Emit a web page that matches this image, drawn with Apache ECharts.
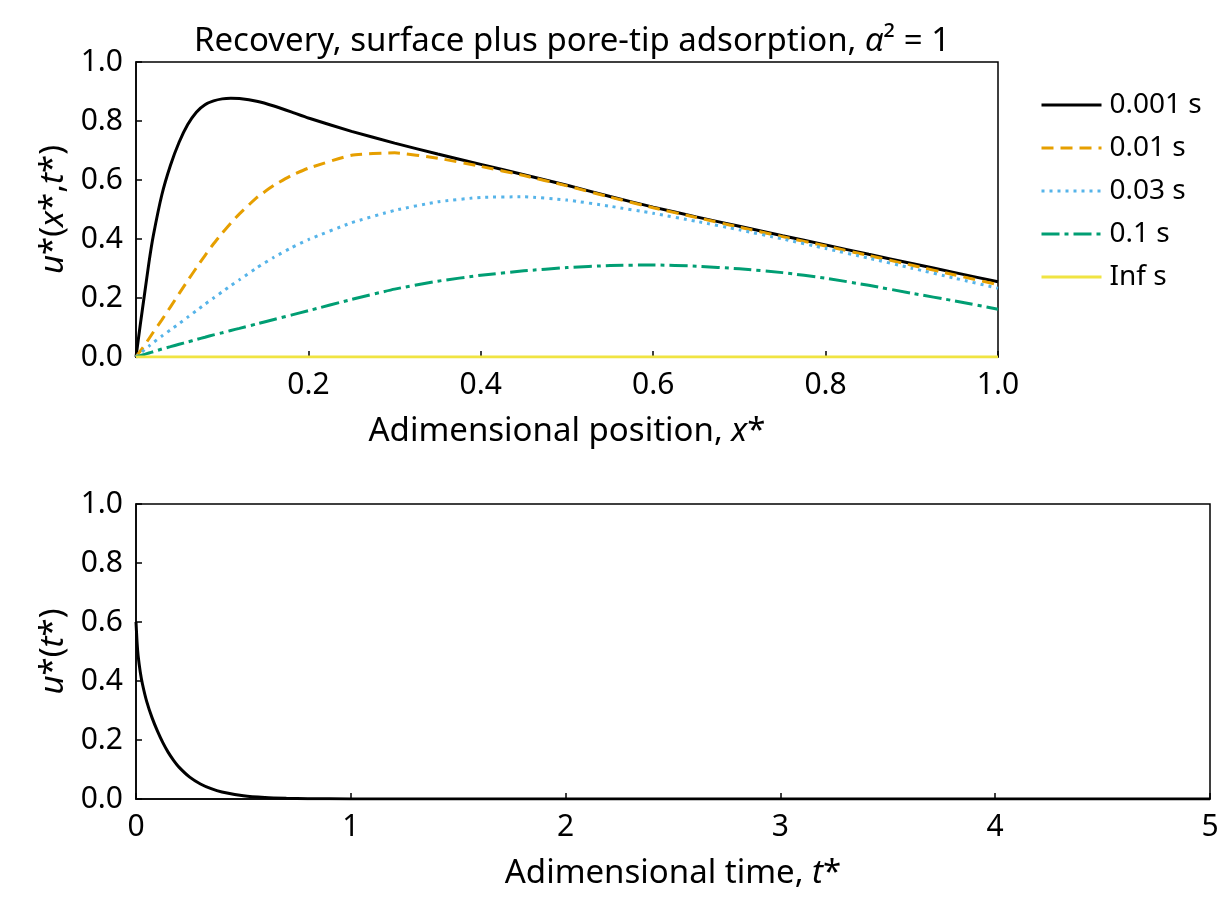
<!DOCTYPE html>
<html>
<head>
<meta charset="utf-8">
<script src="https://cdn.jsdelivr.net/npm/echarts@6/dist/echarts.min.js"></script>
<style>
  html, body { margin: 0; padding: 0; background: #fff; }
  #main { width: 1230px; height: 923px; }
</style>
</head>
<body>
<div id="main"></div>
<script>
// top panel: profiles along the pore
const xPos = [0, 0.005, 0.01, 0.015, 0.02, 0.03, 0.04, 0.05, 0.06, 0.07, 0.08, 0.09, 0.1, 0.11, 0.12, 0.14, 0.16, 0.18, 0.2,
  0.25, 0.3, 0.35, 0.4, 0.45, 0.5, 0.55, 0.6, 0.65, 0.7, 0.75, 0.8, 0.85, 0.9, 0.95, 1.0];
const u0001 = [0, 0.11, 0.215, 0.32, 0.41, 0.55, 0.65, 0.728, 0.788, 0.83, 0.855, 0.868, 0.875, 0.877, 0.876, 0.867, 0.851, 0.831, 0.81,
  0.765, 0.725, 0.688, 0.653, 0.618, 0.582, 0.544, 0.508, 0.475, 0.443, 0.411, 0.38, 0.348, 0.317, 0.286, 0.255];
const u001 = [0, 0.02, 0.04, 0.062, 0.084, 0.126, 0.17, 0.215, 0.259, 0.302, 0.344, 0.384, 0.42, 0.454, 0.485, 0.54, 0.582, 0.615, 0.64,
  0.684, 0.692, 0.674, 0.646, 0.615, 0.58, 0.542, 0.506, 0.473, 0.44, 0.408, 0.376, 0.344, 0.311, 0.278, 0.245];
const u003 = [0, 0.012, 0.025, 0.037, 0.049, 0.071, 0.092, 0.113, 0.135, 0.157, 0.179, 0.2, 0.221, 0.242, 0.262, 0.302, 0.338, 0.37, 0.398,
  0.455, 0.497, 0.526, 0.541, 0.543, 0.532, 0.511, 0.487, 0.46, 0.431, 0.4, 0.368, 0.335, 0.301, 0.267, 0.233];
const u01 = [0, 0.0045, 0.009, 0.0135, 0.018, 0.027, 0.035, 0.043, 0.051, 0.059, 0.067, 0.075, 0.082, 0.09, 0.097, 0.112, 0.127, 0.142, 0.157,
  0.195, 0.23, 0.257, 0.277, 0.292, 0.303, 0.31, 0.312, 0.308, 0.299, 0.286, 0.267, 0.243, 0.216, 0.19, 0.162];
const uInf = [0, 0, 0, 0, 0, 0, 0, 0, 0, 0, 0, 0, 0, 0, 0, 0, 0, 0, 0,
  0, 0, 0, 0, 0, 0, 0, 0, 0, 0, 0, 0, 0, 0, 0, 0];
const seriesNames = ['0.001 s', '0.01 s', '0.03 s', '0.1 s', 'Inf s'];

// bottom panel: recovery over time
const tPos = [0, 0.005, 0.01, 0.02, 0.03, 0.05, 0.075, 0.1, 0.125, 0.15, 0.175, 0.2, 0.25, 0.3, 0.35, 0.4, 0.5, 0.6, 0.7, 0.8, 1.0, 1.5, 2, 3, 4, 5];
const uTime = [0.6, 0.53, 0.485, 0.43, 0.39, 0.33, 0.275, 0.23, 0.191, 0.158, 0.131, 0.108, 0.074, 0.051, 0.035, 0.024, 0.0113, 0.0053, 0.0025, 0.0012, 0.0003, 0, 0, 0, 0, 0];

const zip = (xs, ys) => xs.map((x, i) => [x, ys[i]]);

const FONT = '"Noto Sans", "DejaVu Sans", sans-serif';
const NAME_SIZE = 33;
const TICK_SIZE = 30;
const rich = {
  n: { fontFamily: FONT, fontSize: NAME_SIZE, color: '#000' },
  i: { fontFamily: FONT, fontSize: NAME_SIZE, fontStyle: 'italic', color: '#000' }
};

function axisCommon(fmt) {
  return {
    axisLine: { show: true, lineStyle: { color: '#000', width: 1.5 } },
    axisTick: { show: true, inside: true, length: 6, lineStyle: { color: '#000', width: 1.5 } },
    splitLine: { show: false },
    axisLabel: { color: '#000', fontFamily: FONT, fontSize: TICK_SIZE, margin: 13, formatter: fmt },
    nameLocation: 'middle',
    nameTextStyle: { color: '#000', fontFamily: FONT, fontSize: NAME_SIZE, rich: rich }
  };
}

const chart = echarts.init(document.getElementById('main'), null, { renderer: 'canvas' });

const styles = [
  { color: '#000000', type: 'solid' },
  { color: '#E69F00', type: [12, 7] },
  { color: '#56B4E9', type: [3, 5] },
  { color: '#009E73', type: [18, 5, 4, 5] },
  { color: '#F0E442', type: 'solid' }
];
const topData = [u0001, u001, u003, u01, uInf];

const topSeries = topData.map((ys, k) => ({
  name: seriesNames[k],
  type: 'line',
  xAxisIndex: 0,
  yAxisIndex: 0,
  data: zip(xPos, ys),
  showSymbol: false,
  symbol: 'none',
  smooth: 0.15,
  color: styles[k].color,
  lineStyle: { color: styles[k].color, width: 3, type: styles[k].type },
  z: 2 + k
}));

const option = {
  animation: false,
  backgroundColor: '#fff',
  title: {
    text: '{n|Recovery, surface plus pore-tip adsorption, }{i|α}{n|² = 1}',
    left: 567,
    top: 20,
    textAlign: 'center',
    textStyle: { fontFamily: FONT, fontSize: NAME_SIZE, fontWeight: 'normal', color: '#000', rich: rich }
  },
  legend: {
    data: seriesNames,
    orient: 'vertical',
    left: 1035,
    top: 85,
    itemWidth: 60,
    itemHeight: 14,
    itemGap: 13,
    itemStyle: { opacity: 0 },
    lineStyle: { width: 3 },
    textStyle: { fontFamily: FONT, fontSize: 28, color: '#000', padding: [0, 0, 0, 3], lineHeight: 30 }
  },
  grid: [
    { left: 136, top: 62, width: 862, height: 295, show: true, borderColor: '#000', borderWidth: 1.5, containLabel: false },
    { left: 136, top: 504, width: 1074, height: 295, show: true, borderColor: '#000', borderWidth: 1.5, containLabel: false }
  ],
  xAxis: [
    Object.assign(axisCommon(v => (v === 0 ? '' : v.toFixed(1))), {
      type: 'value', gridIndex: 0, min: 0, max: 1, interval: 0.2,
      name: '{n|Adimensional position, }{i|x}{n|*}', nameGap: 58
    }),
    Object.assign(axisCommon(v => String(Math.round(v))), {
      type: 'value', gridIndex: 1, min: 0, max: 5, interval: 1,
      name: '{n|Adimensional time, }{i|t}{n|*}', nameGap: 58
    })
  ],
  yAxis: [
    Object.assign(axisCommon(v => v.toFixed(1)), {
      type: 'value', gridIndex: 0, min: 0, max: 1, interval: 0.2,
      name: '{i|u}{n|*(}{i|x}{n|*,}{i|t}{n|*)}', nameGap: 62
    }),
    Object.assign(axisCommon(v => v.toFixed(1)), {
      type: 'value', gridIndex: 1, min: 0, max: 1, interval: 0.2,
      name: '{i|u}{n|*(}{i|t}{n|*)}', nameGap: 62
    })
  ],
  series: topSeries.concat([
    {
      name: 'u(t)',
      type: 'line',
      xAxisIndex: 1,
      yAxisIndex: 1,
      data: zip(tPos, uTime),
      showSymbol: false,
      symbol: 'none',
      smooth: 0.15,
      color: '#000',
      lineStyle: { color: '#000', width: 3 }
    }
  ])
};

chart.setOption(option);
</script>
</body>
</html>
